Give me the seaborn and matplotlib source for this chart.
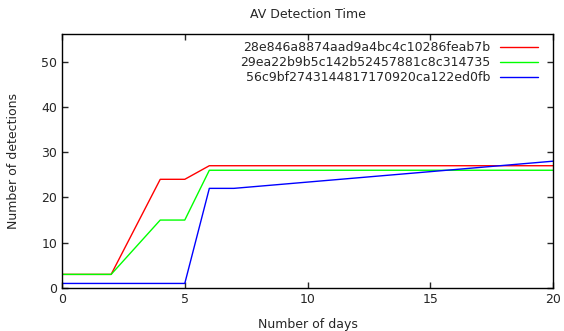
import numpy as np
import matplotlib
matplotlib.use("Agg")
import matplotlib.pyplot as plt
import seaborn as sns
import pandas as pd

# sample hashes and their detection counts per day
names = ["28e846a8874aad9a4bc4c10286feab7b",
         "29ea22b9b5c142b52457881c8c314735",
         "56c9bf2743144817170920ca122ed0fb"]
colors = ["#ff0000", "#00ff00", "#0000ff"]

red_days = [0, 2, 4, 5, 6, 20]
red_det = [3, 3, 24, 24, 27, 27]
green_days = [0, 2, 4, 5, 6, 20]
green_det = [3, 3, 15, 15, 26, 26]
blue_days = [0, 5, 6, 7, 20]
blue_det = [1, 1, 22, 22, 28]

rows = []
for n, d, v in zip(names, [red_days, green_days, blue_days], [red_det, green_det, blue_det]):
    for x, y in zip(d, v):
        rows.append((n, x, y))
df = pd.DataFrame(rows, columns=["sample", "days", "detections"])

sns.set_style("ticks")
plt.rcParams["font.family"] = ["DejaVu Sans"]
plt.rcParams["font.size"] = 9

fig = plt.figure(figsize=(5.64, 3.31), dpi=100)
ax = fig.add_axes([0.110, 0.130, 0.8705, 0.766])
sns.lineplot(data=df, x="days", y="detections", hue="sample", palette=colors,
             linewidth=1, ax=ax, estimator=None, sort=False)

ax.set_xlim(0, 20)
ax.set_ylim(0, 56)
ax.set_xticks([0, 5, 10, 15, 20])
ax.set_yticks([0, 10, 20, 30, 40, 50])
ax.tick_params(direction="in", top=True, right=True, labelsize=9, length=4, width=1)
for s in ax.spines.values():
    s.set_linewidth(1)
    s.set_color("black")
ax.set_title("AV Detection Time", fontsize=9, pad=12)
ax.set_xlabel("Number of days", fontsize=9, labelpad=9)
ax.set_ylabel("Number of detections", fontsize=9, labelpad=15)

leg = ax.legend(loc="upper right", bbox_to_anchor=(0.9796, 0.994), frameon=False,
                markerfirst=False, fontsize=9, handlelength=3.0, handletextpad=0.8,
                labelspacing=0.18, borderaxespad=0)
for line in leg.get_lines():
    line.set_linewidth(1)

fig.savefig("out.png", dpi=100)
